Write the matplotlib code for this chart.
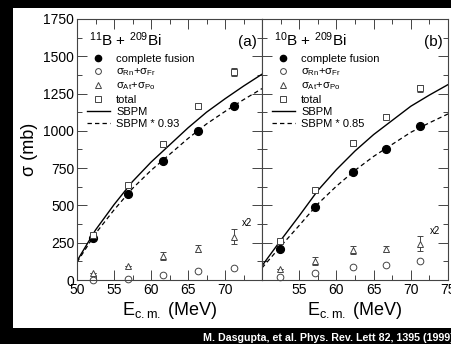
import matplotlib
matplotlib.use("Agg")
import matplotlib.pyplot as plt
from matplotlib.patches import Rectangle
from matplotlib.lines import Line2D
from matplotlib.ticker import MultipleLocator, FixedLocator

plt.rcParams['font.family'] = ['Liberation Sans', 'DejaVu Sans']
plt.rcParams['mathtext.fontset'] = 'custom'
plt.rcParams['mathtext.rm'] = 'Liberation Sans'
plt.rcParams['mathtext.it'] = 'Liberation Sans:italic'
plt.rcParams['mathtext.bf'] = 'Liberation Sans:bold'

# ---------------- data ----------------
e_a = [52.1, 56.9, 61.6, 66.4, 71.2]
cf_a = [283, 578, 795, 1000, 1165]
rnfr_a = [0, 8, 33, 60, 80]
atpo_a = [45, 95, 160, 210, 290]
atpo_err_a = [0, 0, 25, 25, 50]
tot_a = [300, 635, 915, 1165, 1395]
tot_err_a = [0, 0, 20, 20, 25]

e_b = [52.4, 57.1, 62.2, 66.6, 71.3]
cf_b = [210, 489, 726, 875, 1035]
rnfr_b = [18, 45, 87, 100, 127]
atpo_b = [72, 127, 200, 208, 242]
atpo_err_b = [0, 25, 25, 22, 50]
tot_b = [262, 605, 920, 1095, 1285]
tot_err_b = [0, 15, 20, 15, 25]

sbpm_e = [50, 52.5, 55, 57.5, 60, 62.5, 65, 67.5, 70, 72.5, 75]
sbpm_a = [128, 335, 505, 660, 790, 905, 1020, 1125, 1215, 1300, 1380]
sbpm_b = [95, 265, 430, 600, 740, 865, 975, 1070, 1165, 1240, 1310]
scale_a = 0.93
scale_b = 0.85

xt_a = [50, 55, 60, 65, 70]
xt_b = [55, 60, 65, 70, 75]
yt = [0, 250, 500, 750, 1000, 1250, 1500, 1750]

W, H = 451, 344
fig = plt.figure(figsize=(W / 100, H / 100), dpi=100, facecolor='black')
fig.patches.append(Rectangle((13 / W, 16 / H), 1, 320 / H, transform=fig.transFigure,
                             facecolor='white', edgecolor='none', zorder=-10))

bottom = (H - 280) / H
height = 261 / H
ax1 = fig.add_axes([77 / W, bottom, 185 / W, height])
ax2 = fig.add_axes([262 / W, bottom, 186 / W, height])

gray = '#444444'


def draw(ax, e, cf, rnfr, atpo, atpo_err, tot, tot_err, sb, scale, title, tag, xt, x2pos):
    ax.set_facecolor('white')
    ax.plot(sbpm_e, sb, '-', color='black', lw=1.0, label='SBPM')
    ax.plot(sbpm_e, [v * scale for v in sb], '--', color='black', lw=0.9,
            dashes=(3.5, 2.5), label='SBPM * %.2f' % scale)
    ax.errorbar(e, tot, yerr=tot_err, fmt='s', ms=4.5, mfc='white', mec=gray, mew=0.7,
                ecolor=gray, elinewidth=0.7, capsize=2.5, capthick=0.7, label='total')
    ax.errorbar(e, atpo, yerr=atpo_err, fmt='^', ms=4.5, mfc='white', mec=gray, mew=0.7,
                ecolor=gray, elinewidth=0.7, capsize=2.5, capthick=0.7,
                label=r'σ$_{\rm At}$+σ$_{\rm Po}$')
    ax.plot(e, rnfr, 'o', ms=4.8, mfc='white', mec=gray, mew=0.7,
            label=r'σ$_{\rm Rn}$+σ$_{\rm Fr}$', clip_on=False)
    ax.plot(e, cf, 'o', ms=5.6, color='black', label='complete fusion')
    ax.set_xlim(50, 75)
    ax.set_ylim(0, 1750)
    ax.xaxis.set_major_locator(FixedLocator(xt))
    ax.xaxis.set_minor_locator(MultipleLocator(2.5))
    ax.yaxis.set_major_locator(FixedLocator(yt))
    ax.yaxis.set_minor_locator(MultipleLocator(125))
    ax.tick_params(which='major', direction='in', length=7, width=0.7, color=gray,
                   top=True, right=True, labelsize=10, pad=2)
    ax.tick_params(which='minor', direction='in', length=3.5, width=0.7, color=gray,
                   top=True, right=True)
    for s in ax.spines.values():
        s.set_color(gray)
        s.set_linewidth(0.8)
    ax.set_xlabel(r'E$_{\rm c.m.}$ (MeV)', fontsize=13, labelpad=2)
    ax.text(0.065, 0.955, title, transform=ax.transAxes, fontsize=11, va='top', ha='left')
    ax.text(0.97, 0.94, tag, transform=ax.transAxes, fontsize=11, va='top', ha='right')
    ax.text(x2pos[0], x2pos[1], 'x2', fontsize=7)

    hs, ls = ax.get_legend_handles_labels()
    order = ['complete fusion', r'σ$_{\rm Rn}$+σ$_{\rm Fr}$', r'σ$_{\rm At}$+σ$_{\rm Po}$',
             'total', 'SBPM', 'SBPM * %.2f' % scale]
    styles = {
        'complete fusion': dict(marker='o', ms=4.5, color='black'),
        r'σ$_{\rm Rn}$+σ$_{\rm Fr}$': dict(marker='o', ms=4.2, mfc='white', mec=gray, mew=0.7),
        r'σ$_{\rm At}$+σ$_{\rm Po}$': dict(marker='^', ms=4.2, mfc='white', mec=gray, mew=0.7),
        'total': dict(marker='s', ms=4.0, mfc='white', mec=gray, mew=0.7),
    }
    d = dict(zip(ls, hs))
    handles = []
    for lab in order:
        if lab in styles:
            h = Line2D([], [], ls='none', **styles[lab])
        else:
            h = d[lab]
        handles.append(h)
    ax.legend(handles, order, loc='upper left', bbox_to_anchor=(0.02, 0.89), frameon=False,
              fontsize=8, handlelength=2.0, handletextpad=0.6, labelspacing=0.2,
              borderaxespad=0.2)


draw(ax1, e_a, cf_a, rnfr_a, atpo_a, atpo_err_a, tot_a, tot_err_a, sbpm_a, scale_a,
     r'$^{11}$B + $^{209}$Bi', '(a)', xt_a, (72.3, 360))
draw(ax2, e_b, cf_b, rnfr_b, atpo_b, atpo_err_b, tot_b, tot_err_b, sbpm_b, scale_b,
     r'$^{10}$B + $^{209}$Bi', '(b)', xt_b, (72.6, 310))

ax1.set_ylabel('σ (mb)', fontsize=13, labelpad=4)
ax2.tick_params(labelleft=False)

fig.text(203 / W, 1 - 338 / H, 'M. Dasgupta, et al. Phys. Rev. Lett 82, 1395 (1999)',
         color='white', fontsize=7.7, fontweight='bold', va='center', ha='left')

fig.savefig('out.png', dpi=100, facecolor='black')
